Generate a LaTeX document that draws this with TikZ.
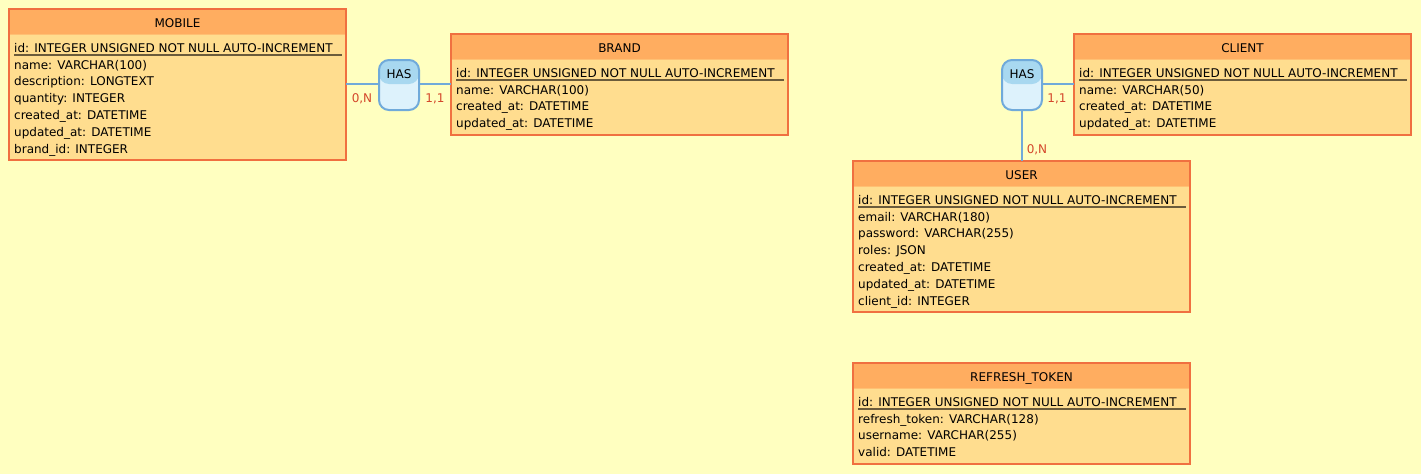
\documentclass[tikz,border=0pt]{standalone}
\usepackage{fontspec}
\setmainfont{DejaVu Sans}
\usetikzlibrary{calc}
\definecolor{bgc}{HTML}{FFFFC0}
\definecolor{headc}{HTML}{FFAD60}
\definecolor{bodyc}{HTML}{FFDD8F}
\definecolor{borderc}{HTML}{F07040}
\definecolor{ulc}{HTML}{6B5B3B}
\definecolor{hastopc}{HTML}{A8D8F0}
\definecolor{hasbotc}{HTML}{DDF2FC}
\definecolor{hasborderc}{HTML}{70AADA}
\definecolor{labc}{HTML}{D4482C}
\tikzset{
  txt/.style={inner sep=0pt, anchor=base west, font=\fontsize{12}{14}\selectfont},
  ttl/.style={inner sep=0pt, anchor=base, font=\fontsize{12}{14}\selectfont},
  card/.style={inner sep=0pt, anchor=base, text=labc, font=\fontsize{12}{14}\selectfont},
  entbox/.style={draw=borderc, line width=2pt, fill=bodyc, inner sep=0pt, outer sep=0pt, anchor=north west, minimum width=337pt},
  hasbox/.style={draw=hasborderc, line width=2pt, fill=hasbotc, rounded corners=10pt, minimum width=40pt, minimum height=50pt, inner sep=0pt, outer sep=0pt,
    path picture={\fill[hastopc] (path picture bounding box.north west) rectangle ($(path picture bounding box.east)+(0,-1)$);}},
  link/.style={draw=hasborderc, line width=2pt},
}
\newcommand{\erentity}[6]{%
  % #1 name, #2 x, #3 y, #4 height, #5 title, #6 attributes (first is key)
  \node[entbox, minimum height=#4pt] (#1) at (#2,#3) {};
  \fill[headc] ($(#1.north west)+(1,1)$) rectangle ($(#1.north east)+(-1,25)$);
  \draw[headc!60!bodyc, line width=1pt] ($(#1.north west)+(1,25.5)$) -- ($(#1.north east)+(-1,25.5)$);
  \draw[borderc, line width=2pt] (#1.north west) rectangle (#1.south east);
  \node[ttl] (#1-t) at ($(#1.north)+(0,18.2)$) {#5};
  \foreach \a [count=\i] in {#6} {
    \node[txt] (#1-a\i) at ($(#1.north west)+(5,43.3+16.8*\i-16.8)$) {\a};
  }
  \draw[ulc, line width=1.5pt] ($(#1.north west)+(5,45.8)$) -- ($(#1.north west)+(333,45.8)$);
}
\begin{document}
\begin{tikzpicture}[x=1pt,y=-1pt]
\fill[bgc] (0,0) rectangle (1421,474);
\useasboundingbox (0,0) rectangle (1421,474);

\erentity{mobile}{9}{9}{151}{MOBILE}{id: INTEGER UNSIGNED NOT NULL AUTO-INCREMENT,name: VARCHAR(100),description: LONGTEXT,quantity: INTEGER,created\_at: DATETIME,updated\_at: DATETIME,brand\_id: INTEGER}
\erentity{brand}{451}{34}{101}{BRAND}{id: INTEGER UNSIGNED NOT NULL AUTO-INCREMENT,name: VARCHAR(100),created\_at: DATETIME,updated\_at: DATETIME}
\erentity{client}{1074}{34}{101}{CLIENT}{id: INTEGER UNSIGNED NOT NULL AUTO-INCREMENT,name: VARCHAR(50),created\_at: DATETIME,updated\_at: DATETIME}
\erentity{user}{853}{161}{151}{USER}{id: INTEGER UNSIGNED NOT NULL AUTO-INCREMENT,email: VARCHAR(180),password: VARCHAR(255),roles: JSON,created\_at: DATETIME,updated\_at: DATETIME,client\_id: INTEGER}
\erentity{token}{853}{363}{101}{REFRESH\_TOKEN}{id: INTEGER UNSIGNED NOT NULL AUTO-INCREMENT,refresh\_token: VARCHAR(128),username: VARCHAR(255),valid: DATETIME}

\node[hasbox] (has1) at (399,85) {};
\node[ttl] (has1-t) at (399,78) {HAS};
\node[hasbox] (has2) at (1022,85) {};
\node[ttl] (has2-t) at (1022,78) {HAS};

\coordinate (h1l) at ($(has1.west)+(0,-1)$);
\coordinate (h1r) at ($(has1.east)+(0,-1)$);
\coordinate (h2r) at ($(has2.east)+(0,-1)$);
\draw[link] (h1l) -- (h1l -| mobile.east);
\draw[link] (h1r) -- (h1r -| brand.west);
\draw[link] (h2r) -- (h2r -| client.west);
\draw[link] (has2.south) -- (has2.south |- user.north);

\node[card] (c1) at (362,102) {0,N};
\node[card] (c2) at (435,102) {1,1};
\node[card] (c3) at (1057,102) {1,1};
\node[card] (c4) at (1037,153) {0,N};
\end{tikzpicture}
\end{document}
